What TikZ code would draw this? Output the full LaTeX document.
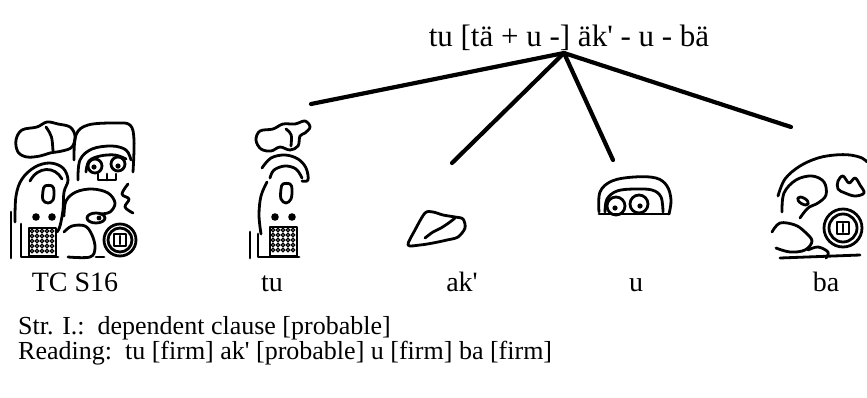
\documentclass[tikz,border=0pt]{standalone}
\usepackage{fontspec}
\setmainfont{Liberation Serif}[Ligatures=TeXOff]
\begin{document}
\begin{tikzpicture}[x=1pt,y=-1pt,
  lbl/.style={font=\fontsize{28}{32}\selectfont, inner sep=0pt, anchor=base},
  note/.style={font=\fontsize{26}{30}\selectfont, inner sep=0pt, anchor=base west},
  branch/.style={line width=4.2pt, line cap=round},
  glyph/.style={line width=2.8pt, line join=round, line cap=round},
  fine/.style={line width=1.2pt}]
\useasboundingbox (0,0) rectangle (867,397);

% ---- reading and its branches ----
\node[lbl, font=\fontsize{31}{35}\selectfont] (phrase) at (569,46) {tu [tä + u -] äk' - u - bä};
\coordinate (apex) at (564,53);
\coordinate (tuend) at (311,104);
\coordinate (akend) at (452,163);
\coordinate (uend) at (613,160);
\coordinate (baend) at (791,127);
\draw[branch] (apex) -- (tuend);
\draw[branch] (apex) -- (akend);
\draw[branch] (apex) -- (uend);
\draw[branch] (apex) -- (baend);

% ---- TC S16: the whole compound ----
\begin{scope}[glyph]
  % upper left cloud
  \draw plot[smooth cycle, tension=0.6] coordinates {(16,140)(22,130)(37,127)(47,122)(58,124)(70,127)(75,136)(72,147)(62,151)(50,153)(40,156)(27,157)(18,152)};
  \draw (46,127) .. controls (52,136) .. (53,151);
  % upper right block with eyes
  \draw plot[smooth, tension=0.6] coordinates {(74,160)(76,135)(88,125)(115,123)(130,125)(134,140)(133,172)};
  \draw plot[smooth, tension=0.6] coordinates {(78,180)(80,160)(92,149)(112,146)(126,150)(131,160)};
  \draw plot[smooth, tension=0.6] coordinates {(86,172)(89,161)(100,156)(115,155)(126,159)};
  \draw (95,166) circle (7pt);
  \draw (118,164) circle (7pt);
  \fill (94,167) circle (2.6pt);
  \fill (118,166) circle (2.6pt);
  \draw (98,174) -- (98,180) -- (116,180) -- (116,174);
  \draw (107,174) -- (107,180);
  % wavy element at right
  \draw plot[smooth, tension=0.6] coordinates {(128,184)(122,194)(129,199)(125,207)(133,213)};
  % left head
  \draw plot[smooth, tension=0.6] coordinates {(15,222)(16,196)(22,179)(35,167)(50,163)(63,168)(68,180)(64,192)(63,210)(60,226)(57,232)};
  \draw (30,181) .. controls (38,166) and (55,166) .. (62,179);
  \draw plot[smooth cycle, tension=0.6] coordinates {(43,191)(45,186)(52,186)(54,191)(53,200)(48,203)(43,200)};
  \fill (36,217) circle (3.8pt);
  \fill (52,217) circle (3.8pt);
  \draw (29,228) rectangle (56,256);
  \draw (11,212) -- (11,258);
  \draw (21,224) -- (21,257) -- (58,257);
  % middle head
  \draw plot[smooth, tension=0.6] coordinates {(64,216)(66,201)(76,192)(92,189)(108,193)(115,203)(110,212)(100,214)};
  \draw (96,218) ellipse (9pt and 5pt);
  \fill (99,218) circle (2.4pt);
  \draw plot[smooth, tension=0.6] coordinates {(64,232)(72,226)(85,226)(92,235)(95,248)(90,257)(68,257)};
  % lower right ring with cross
  \draw (120,240) circle (16pt);
  \draw (120,240) circle (12pt);
  \draw (114,234) rectangle (126,246);
  \draw (120,236) -- (120,244);
  \draw (96,257) -- (104,257);
\end{scope}
\foreach \i in {0,...,4} \foreach \j in {0,...,4}
  \draw[fine] ({32+5*\i},{231+5*\j}) circle (1.8pt);

% ---- tu ----
\begin{scope}[glyph]
  \draw plot[smooth cycle, tension=0.6] coordinates {(256,140)(260,131)(273,129)(283,124)(295,124)(305,121)(310,127)(305,133)(300,136)(298,146)(290,150)(280,147)(271,151)(261,149)};
  \draw (286,129) .. controls (292,134) .. (291,146);
  \draw plot[smooth, tension=0.6] coordinates {(262,168)(271,158)(285,155)(298,159)(306,168)(308,180)(302,181)};
  \draw plot[smooth, tension=0.6] coordinates {(270,178)(274,170)(285,166)(296,169)(302,178)};
  \draw plot[smooth, tension=0.6] coordinates {(267,182)(261,196)(259,215)(261,234)};
  \draw plot[smooth cycle, tension=0.6] coordinates {(281,189)(283,184)(290,184)(292,189)(291,199)(286,203)(281,199)};
  \fill (275,217) circle (3.8pt);
  \fill (292,217) circle (3.8pt);
  \draw (270,227) rectangle (297,256);
  \draw (250,232) -- (250,258);
  \draw (258,234) -- (258,257) -- (299,257);
\end{scope}
\foreach \i in {0,...,4} \foreach \j in {0,...,4}
  \draw[fine] ({273+5*\i},{230+5*\j}) circle (1.8pt);

% ---- ak' (fragment) ----
\begin{scope}[glyph]
  \draw plot[smooth cycle, tension=0.5] coordinates {(408,245)(415,230)(425,213)(433,212)(443,215)(455,217)(463,219)(465,228)(458,237)(447,240)(433,243)(420,245)};
  \draw plot[smooth, tension=0.6] coordinates {(425,238)(433,232)(441,228)(450,222)(455,218)};
\end{scope}

% ---- u ----
\begin{scope}[glyph]
  \draw plot[smooth, tension=0.6] coordinates {(599,212)(600,192)(612,181)(634,177)(656,178)(667,186)(671,200)(669,214)};
  \draw plot[smooth, tension=0.6] coordinates {(605,212)(607,199)(617,191)(634,189)(652,190)(661,197)(663,212)};
  \draw (616,206) circle (9pt);
  \draw (639,204) circle (9pt);
  \fill (615,208) circle (2.6pt);
  \fill (640,206) circle (2.6pt);
  \draw (599,214) -- (669,214);
\end{scope}

% ---- ba ----
\begin{scope}[glyph]
  \draw plot[smooth, tension=0.6] coordinates {(778,196)(785,179)(800,166)(818,158)(835,155)(850,155)(862,158)(867,162)};
  \draw plot[smooth, tension=0.6] coordinates {(782,212)(784,193)(796,180)(812,176)(824,182)(826,195)(818,203)(808,208)(800,218)};
  \draw[rotate around={-30:(803,201)}] (803,201) ellipse (6pt and 3pt);
  \draw plot[smooth cycle, tension=0.6] coordinates {(838,181)(843,176)(849,183)(855,178)(860,185)(864,193)(855,196)(845,193)(838,189)};
  \draw (843,228) circle (19pt);
  \draw (843,228) circle (14pt);
  \draw (837,222) rectangle (849,234);
  \draw (843,224) -- (843,232);
  \draw plot[smooth, tension=0.6] coordinates {(772,232)(780,223)(795,225)(805,232)(812,241)(805,250)(790,252)(776,248)};
  \draw plot[smooth, tension=0.6] coordinates {(808,250)(818,247)(828,252)(826,258)};
  \draw (780,258) -- (860,255);
\end{scope}

% ---- glyph names ----
\node[lbl] (tcs) at (75,291) {TC S16};
\node[lbl] (tu) at (272,291) {tu};
\node[lbl] (ak) at (462,291) {ak'};
\node[lbl] (u) at (636,291) {u};
\node[lbl] (ba) at (826,291) {ba};

% ---- notes ----
\node[note] (str) at (18,334) {Str. I.:\ \ dependent clause [probable]};
\node[note] (reading) at (18,359) {Reading:\ \ tu [firm] ak' [probable] u [firm] ba [firm]};
\end{tikzpicture}
\end{document}
